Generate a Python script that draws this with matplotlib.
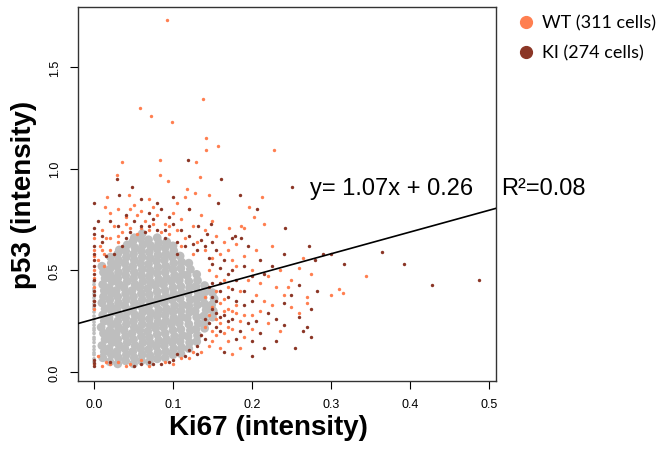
import matplotlib
matplotlib.use("Agg")
import matplotlib.pyplot as plt
from matplotlib.lines import Line2D
import numpy as np

plt.rcParams['font.family'] = ['Liberation Sans', 'DejaVu Sans']

# fit shown on the chart
slope = 1.07
intercept = 0.26
r2 = 0.08

x_ticks = [0.0, 0.1, 0.2, 0.3, 0.4, 0.5]
y_ticks = [0.0, 0.5, 1.0, 1.5]

wt_label = "WT (311 cells)"
ki_label = "KI (274 cells)"

gray_pts = [
    (0.0, 0.05), (0.0, 0.065), (0.0, 0.085), (0.0, 0.095), (0.0, 0.11), (0.0, 0.125), (0.0, 0.145),
    (0.0, 0.16), (0.0, 0.17), (0.0, 0.19), (0.0, 0.205), (0.0, 0.215), (0.0, 0.23), (0.0, 0.245),
    (0.0, 0.26), (0.0, 0.275), (0.0, 0.295), (0.0, 0.31), (0.0, 0.32), (0.0, 0.335), (0.0, 0.35),
    (0.0, 0.365), (0.0, 0.385), (0.0, 0.40), (0.0, 0.41), (0.0, 0.43), (0.0, 0.445),
    (0.011, 0.07), (0.013, 0.10), (0.010, 0.13), (0.014, 0.16), (0.012, 0.19), (0.009, 0.22),
    (0.013, 0.25), (0.011, 0.28), (0.014, 0.31), (0.010, 0.34), (0.012, 0.37), (0.013, 0.40),
    (0.011, 0.43), (0.014, 0.46), (0.012, 0.49), (0.010, 0.52),
    (0.020, 0.05), (0.022, 0.085), (0.019, 0.115), (0.023, 0.145), (0.021, 0.175), (0.020, 0.205),
    (0.022, 0.235), (0.019, 0.265), (0.023, 0.295), (0.021, 0.325), (0.020, 0.355), (0.022, 0.385),
    (0.019, 0.415), (0.023, 0.445), (0.021, 0.475), (0.020, 0.505), (0.022, 0.535), (0.021, 0.565),
    (0.030, 0.04), (0.031, 0.07), (0.029, 0.10), (0.032, 0.13), (0.030, 0.16), (0.028, 0.19),
    (0.031, 0.22), (0.030, 0.25), (0.032, 0.28), (0.029, 0.31), (0.031, 0.34), (0.030, 0.37),
    (0.028, 0.40), (0.032, 0.43), (0.030, 0.46), (0.031, 0.49), (0.029, 0.52), (0.031, 0.55),
    (0.030, 0.58), (0.032, 0.60),
    (0.040, 0.055), (0.041, 0.085), (0.039, 0.115), (0.042, 0.145), (0.040, 0.175), (0.038, 0.205),
    (0.041, 0.235), (0.040, 0.265), (0.042, 0.295), (0.039, 0.325), (0.041, 0.355), (0.040, 0.385),
    (0.038, 0.415), (0.042, 0.445), (0.040, 0.475), (0.041, 0.505), (0.039, 0.535), (0.041, 0.565),
    (0.040, 0.595), (0.042, 0.625),
    (0.050, 0.04), (0.051, 0.07), (0.049, 0.10), (0.052, 0.13), (0.050, 0.16), (0.048, 0.19),
    (0.051, 0.22), (0.050, 0.25), (0.052, 0.28), (0.049, 0.31), (0.051, 0.34), (0.050, 0.37),
    (0.048, 0.40), (0.052, 0.43), (0.050, 0.46), (0.051, 0.49), (0.049, 0.52), (0.051, 0.55),
    (0.050, 0.58), (0.052, 0.61), (0.049, 0.64), (0.051, 0.66),
    (0.060, 0.055), (0.061, 0.085), (0.059, 0.115), (0.062, 0.145), (0.060, 0.175), (0.058, 0.205),
    (0.061, 0.235), (0.060, 0.265), (0.062, 0.295), (0.059, 0.325), (0.061, 0.355), (0.060, 0.385),
    (0.058, 0.415), (0.062, 0.445), (0.060, 0.475), (0.061, 0.505), (0.059, 0.535), (0.061, 0.565),
    (0.060, 0.595), (0.062, 0.625), (0.059, 0.655), (0.061, 0.68),
    (0.070, 0.05), (0.071, 0.08), (0.069, 0.11), (0.072, 0.14), (0.070, 0.17), (0.068, 0.20),
    (0.071, 0.23), (0.070, 0.26), (0.072, 0.29), (0.069, 0.32), (0.071, 0.35), (0.070, 0.38),
    (0.068, 0.41), (0.072, 0.44), (0.070, 0.47), (0.071, 0.50), (0.069, 0.53), (0.071, 0.56),
    (0.070, 0.59), (0.072, 0.62), (0.069, 0.65),
    (0.080, 0.065), (0.081, 0.095), (0.079, 0.125), (0.082, 0.155), (0.080, 0.185), (0.078, 0.215),
    (0.081, 0.245), (0.080, 0.275), (0.082, 0.305), (0.079, 0.335), (0.081, 0.365), (0.080, 0.395),
    (0.078, 0.425), (0.082, 0.455), (0.080, 0.485), (0.081, 0.515), (0.079, 0.545), (0.081, 0.575),
    (0.080, 0.605), (0.082, 0.635), (0.080, 0.66),
    (0.090, 0.07), (0.091, 0.10), (0.089, 0.13), (0.092, 0.16), (0.090, 0.19), (0.088, 0.22),
    (0.091, 0.25), (0.090, 0.28), (0.092, 0.31), (0.089, 0.34), (0.091, 0.37), (0.090, 0.40),
    (0.088, 0.43), (0.092, 0.46), (0.090, 0.49), (0.091, 0.52), (0.089, 0.55), (0.091, 0.58),
    (0.090, 0.61), (0.092, 0.64),
    (0.100, 0.085), (0.101, 0.115), (0.099, 0.145), (0.102, 0.175), (0.100, 0.205), (0.098, 0.235),
    (0.101, 0.265), (0.100, 0.295), (0.102, 0.325), (0.099, 0.355), (0.101, 0.385), (0.100, 0.415),
    (0.098, 0.445), (0.102, 0.475), (0.100, 0.505), (0.101, 0.535), (0.099, 0.565), (0.101, 0.595),
    (0.100, 0.62),
    (0.110, 0.09), (0.111, 0.12), (0.109, 0.15), (0.112, 0.18), (0.110, 0.21), (0.108, 0.24),
    (0.111, 0.27), (0.110, 0.30), (0.112, 0.33), (0.109, 0.36), (0.111, 0.39), (0.110, 0.42),
    (0.108, 0.45), (0.112, 0.48), (0.110, 0.51), (0.111, 0.54), (0.109, 0.57),
    (0.120, 0.115), (0.121, 0.145), (0.119, 0.175), (0.122, 0.205), (0.120, 0.235), (0.118, 0.265),
    (0.121, 0.295), (0.120, 0.325), (0.122, 0.355), (0.119, 0.385), (0.121, 0.415), (0.120, 0.445),
    (0.118, 0.475), (0.122, 0.505), (0.120, 0.535),
    (0.130, 0.15), (0.131, 0.18), (0.129, 0.21), (0.132, 0.24), (0.130, 0.27), (0.128, 0.30),
    (0.131, 0.33), (0.130, 0.36), (0.132, 0.39), (0.129, 0.42), (0.131, 0.45), (0.130, 0.48),
    (0.140, 0.215), (0.141, 0.245), (0.139, 0.275), (0.142, 0.305), (0.140, 0.335), (0.138, 0.365),
    (0.141, 0.395), (0.140, 0.425),
    (0.150, 0.27), (0.151, 0.30), (0.149, 0.33), (0.152, 0.36), (0.150, 0.39),
]

# WT cells (orange)
wt_pts = [
    (0.092, 1.73), (0.058, 1.30), (0.072, 1.26), (0.138, 1.34), (0.099, 1.23), (0.142, 1.15),
    (0.142, 1.09), (0.157, 1.11), (0.228, 1.09), (0.035, 1.03), (0.084, 1.04), (0.129, 1.03),
    (0.029, 0.97), (0.084, 0.97), (0.134, 0.96), (0.094, 0.94), (0.118, 0.90), (0.128, 0.88),
    (0.146, 0.87), (0.016, 0.86), (0.014, 0.81), (0.044, 0.87), (0.213, 0.86), (0.196, 0.81),
    (0.203, 0.76), (0.215, 0.73), (0.186, 0.72), (0.171, 0.71), (0.190, 0.71),
    (0.020, 0.78), (0.030, 0.80), (0.040, 0.76), (0.050, 0.82), (0.060, 0.79), (0.065, 0.74),
    (0.075, 0.81), (0.080, 0.77), (0.090, 0.73), (0.100, 0.78), (0.110, 0.75), (0.120, 0.80),
    (0.125, 0.72), (0.135, 0.77), (0.140, 0.70), (0.150, 0.74), (0.155, 0.67), (0.165, 0.64),
    (0.010, 0.70), (0.015, 0.66), (0.025, 0.72), (0.035, 0.69), (0.045, 0.71), (0.055, 0.68),
    (0.070, 0.70), (0.085, 0.69), (0.095, 0.68), (0.105, 0.70), (0.115, 0.66), (0.130, 0.64),
    (0.008, 0.62), (0.012, 0.58), (0.020, 0.60), (0.030, 0.64), (0.005, 0.55), (0.012, 0.52),
    (0.0, 0.50), (0.0, 0.60), (0.0, 0.42), (0.0, 0.35), (0.0, 0.66),
    (0.140, 0.60), (0.150, 0.56), (0.160, 0.58), (0.170, 0.60), (0.175, 0.55), (0.180, 0.52),
    (0.190, 0.57), (0.200, 0.50), (0.145, 0.50), (0.155, 0.47), (0.165, 0.45), (0.170, 0.42),
    (0.185, 0.40), (0.210, 0.44), (0.220, 0.47), (0.230, 0.42), (0.160, 0.34), (0.165, 0.30),
    (0.170, 0.31), (0.175, 0.30), (0.180, 0.29), (0.150, 0.32), (0.145, 0.28), (0.140, 0.22),
    (0.150, 0.20), (0.155, 0.18), (0.170, 0.22), (0.185, 0.25), (0.200, 0.28), (0.210, 0.30),
    (0.220, 0.24), (0.190, 0.17), (0.170, 0.15), (0.175, 0.09), (0.200, 0.21), (0.235, 0.20),
    (0.250, 0.32), (0.260, 0.29), (0.270, 0.34), (0.215, 0.35), (0.240, 0.38), (0.245, 0.42),
    (0.275, 0.48), (0.270, 0.37), (0.300, 0.38), (0.310, 0.41), (0.315, 0.39), (0.345, 0.47),
    (0.265, 0.56), (0.260, 0.51),
    (0.0, 0.04), (0.010, 0.03), (0.020, 0.04), (0.030, 0.05), (0.045, 0.04), (0.060, 0.06),
    (0.090, 0.05), (0.110, 0.07), (0.125, 0.10), (0.005, 0.08),
    (0.155, 0.26), (0.160, 0.24), (0.165, 0.19), (0.150, 0.15), (0.145, 0.13), (0.135, 0.10),
    (0.140, 0.37), (0.155, 0.40), (0.165, 0.36), (0.180, 0.33), (0.175, 0.21), (0.190, 0.28),
    (0.160, 0.12), (0.185, 0.12), (0.125, 0.58), (0.110, 0.62), (0.095, 0.72), (0.075, 0.73),
    (0.060, 0.71), (0.040, 0.73), (0.030, 0.67), (0.020, 0.66), (0.010, 0.60), (0.0, 0.57),
    (0.0, 0.46), (0.0, 0.31), (0.070, 0.85), (0.105, 0.83), (0.115, 0.86), (0.055, 0.77),
    (0.045, 0.80), (0.205, 0.38), (0.225, 0.33), (0.235, 0.50), (0.250, 0.45), (0.195, 0.45),
    (0.205, 0.60), (0.180, 0.63), (0.225, 0.62), (0.070, 0.03), (0.100, 0.04), (0.120, 0.07),
    (0.040, 0.03), (0.015, 0.05),
]

# KI cells (dark red)
ki_pts = [
    (0.119, 1.04), (0.161, 0.95), (0.029, 0.95), (0.048, 0.91), (0.251, 0.91), (0.0, 0.83),
    (0.032, 0.87), (0.185, 0.87), (0.157, 0.83), (0.206, 0.80), (0.120, 0.80), (0.242, 0.71),
    (0.148, 0.73), (0.132, 0.72), (0.143, 0.68), (0.178, 0.67), (0.186, 0.66), (0.175, 0.66),
    (0.0, 0.71), (0.0, 0.68), (0.0, 0.55), (0.0, 0.48), (0.0, 0.45), (0.0, 0.40), (0.0, 0.38),
    (0.0, 0.62), (0.010, 0.64), (0.020, 0.74), (0.035, 0.62), (0.040, 0.66), (0.050, 0.74),
    (0.060, 0.72), (0.065, 0.69), (0.075, 0.75), (0.080, 0.70), (0.090, 0.66), (0.095, 0.76),
    (0.100, 0.73), (0.105, 0.64), (0.110, 0.70), (0.115, 0.62), (0.120, 0.67), (0.130, 0.60),
    (0.135, 0.65), (0.140, 0.62), (0.025, 0.58), (0.015, 0.57), (0.070, 0.78), (0.085, 0.80),
    (0.145, 0.56), (0.150, 0.53), (0.160, 0.51), (0.170, 0.48), (0.175, 0.50), (0.180, 0.45),
    (0.190, 0.52), (0.200, 0.47), (0.210, 0.55), (0.225, 0.52), (0.150, 0.44), (0.160, 0.40),
    (0.170, 0.37), (0.180, 0.35), (0.155, 0.35), (0.150, 0.31), (0.140, 0.26), (0.145, 0.24),
    (0.155, 0.22), (0.160, 0.27), (0.175, 0.26), (0.185, 0.20), (0.195, 0.24), (0.200, 0.15),
    (0.210, 0.19), (0.220, 0.29), (0.230, 0.26), (0.240, 0.34), (0.250, 0.38), (0.215, 0.12),
    (0.135, 0.18), (0.130, 0.13), (0.120, 0.11), (0.190, 0.33), (0.240, 0.23), (0.260, 0.27),
    (0.270, 0.22), (0.275, 0.17), (0.265, 0.20), (0.272, 0.62), (0.280, 0.55), (0.290, 0.58),
    (0.300, 0.58), (0.316, 0.53), (0.365, 0.59), (0.392, 0.53), (0.428, 0.43), (0.488, 0.45),
    (0.282, 0.40), (0.275, 0.31),
    (0.0, 0.03), (0.0, 0.06), (0.020, 0.05), (0.050, 0.03), (0.070, 0.05), (0.085, 0.04),
    (0.100, 0.06), (0.105, 0.09), (0.115, 0.08),
    (0.165, 0.28), (0.170, 0.25), (0.160, 0.20), (0.155, 0.29), (0.150, 0.37), (0.145, 0.42),
    (0.160, 0.44), (0.175, 0.41), (0.165, 0.55), (0.155, 0.60), (0.150, 0.64), (0.125, 0.63),
    (0.105, 0.58), (0.090, 0.70), (0.070, 0.72), (0.045, 0.69), (0.030, 0.72), (0.010, 0.67),
    (0.005, 0.74), (0.0, 0.52), (0.0, 0.35), (0.0, 0.33), (0.0, 0.58), (0.195, 0.62),
    (0.215, 0.48), (0.190, 0.40), (0.200, 0.35), (0.205, 0.25), (0.180, 0.16), (0.165, 0.10),
    (0.140, 0.16), (0.130, 0.09), (0.095, 0.05), (0.075, 0.04), (0.060, 0.04), (0.0, 0.045),
    (0.240, 0.58), (0.260, 0.43), (0.230, 0.15), (0.255, 0.12), (0.200, 0.08), (0.080, 0.83),
    (0.100, 0.86), (0.060, 0.85), (0.040, 0.77),
]

GRAY = '#BEBEBE'
ORANGE = '#FF7F50'
DARK = '#8B3626'


def main():
    fig = plt.figure(figsize=(6.56, 4.52), dpi=100)
    ax = fig.add_axes([0.1189, 0.1549, 0.6372, 0.8274])

    gx, gy = np.array(gray_pts).T
    sizes = np.where(gx == 0, 7, 40)
    ax.scatter(gx, gy, s=sizes, color=GRAY, linewidths=0, zorder=1)

    wx, wy = np.array(wt_pts).T
    kx, ky = np.array(ki_pts).T
    ax.scatter(wx, wy, s=6, color=ORANGE, linewidths=0, zorder=2)
    ax.scatter(kx, ky, s=6, color=DARK, linewidths=0, zorder=3)

    ax.axline((0, intercept), slope=slope, color='black', lw=1.2, zorder=4)

    ax.set_xlim(-0.0203, 0.509)
    ax.set_ylim(-0.0442, 1.7945)
    ax.set_xticks(x_ticks)
    ax.set_xticklabels(["%.1f" % v for v in x_ticks])
    ax.set_yticks(y_ticks)
    ax.set_yticklabels(["%.1f" % v for v in y_ticks], rotation=90, va='center')
    ax.tick_params(length=5.5, width=0.8, labelsize=9, pad=7, color='black')
    for s in ax.spines.values():
        s.set_linewidth(1.0)
        s.set_color('#333333')

    fig.text(268 / 656, 0.053, "Ki67 (intensity)", fontsize=20, fontweight='bold',
             ha='center', va='center')
    fig.text(0.036, 0.568, "p53 (intensity)", fontsize=20, fontweight='bold',
             ha='center', va='center', rotation=90)

    fig.text(310 / 656, 1 - 195 / 452, "y= %.2fx + %.2f" % (slope, intercept),
             fontsize=17, ha='left', va='baseline')
    fig.text(501 / 656, 1 - 195 / 452, "R\u00b2=%.2f" % r2,
             fontsize=17, ha='left', va='baseline')

    # legend, placed by hand to the right of the panel
    for row, (col, lab) in enumerate([(ORANGE, wt_label), (DARK, ki_label)]):
        yy = 1 - (23 + 30 * row) / 452
        fig.add_artist(Line2D([526 / 656], [yy], marker='o', ls='', color=col,
                              markersize=8.5, transform=fig.transFigure))
        fig.text(542 / 656, yy, lab, fontsize=13, family='Lato',
                 ha='left', va='center')

    fig.savefig("out.png", dpi=100)


if __name__ == '__main__':
    main()
